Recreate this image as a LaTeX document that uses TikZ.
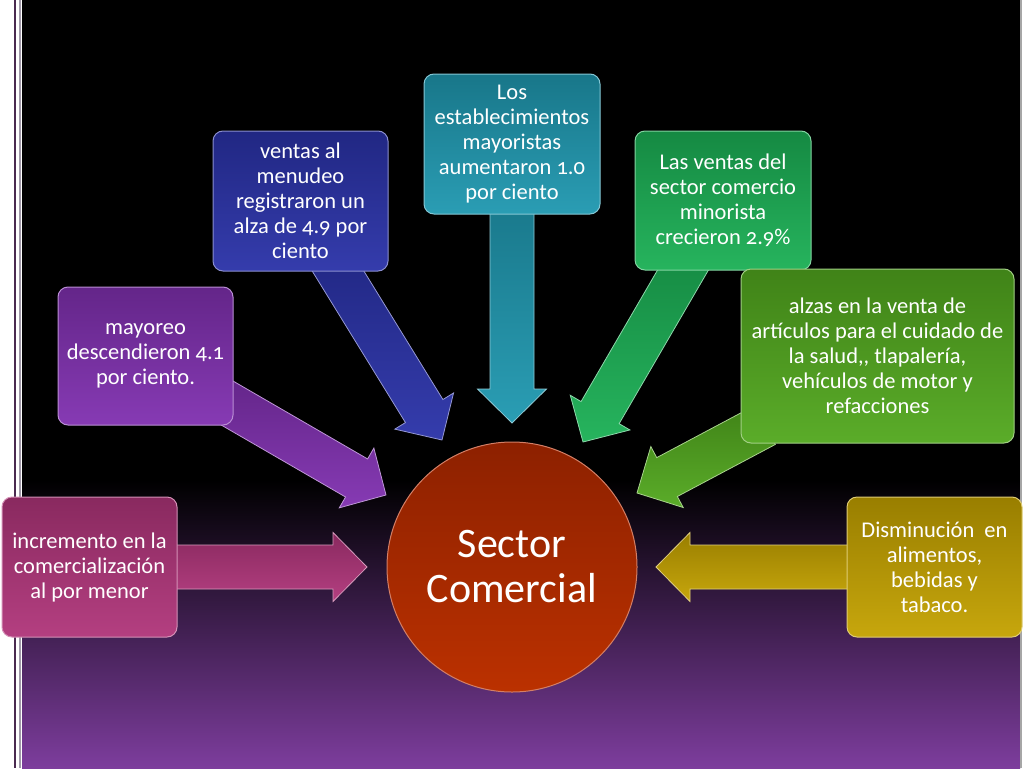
\documentclass[tikz,border=0pt]{standalone}
\usepackage{fontspec}
\setmainfont{Carlito}[Numbers=OldStyle]
\usetikzlibrary{calc}
\definecolor{bgpurple}{HTML}{7D3D9D}
\definecolor{stripdark}{HTML}{4A2A50}
\definecolor{stripgray}{HTML}{A098A8}
\definecolor{cMag}{HTML}{B0357A}
\definecolor{cPur}{HTML}{8030B0}
\definecolor{cBlu}{HTML}{2A32A8}
\definecolor{cTea}{HTML}{1F98B0}
\definecolor{cGrn}{HTML}{1BB055}
\definecolor{cLim}{HTML}{52A81E}
\definecolor{cGld}{HTML}{C4A200}
\definecolor{cRed}{HTML}{B52A00}
\tikzset{
  infobox/.style={rounded corners=10pt, draw=#1!55!white, line width=1pt,
    top color=#1!78!black, bottom color=#1!95!white,
    text=white, align=flush center, inner sep=2pt,
    font=\fontsize{22.5}{25}\selectfont},
  smallbox/.style={infobox=#1, minimum width=175pt, minimum height=140pt, text width=171pt},
  fatarrowsty/.style={top color=#1!78!black, bottom color=#1!95!white,
    draw=#1!50!white, line width=0.8pt, line join=miter},
  hub/.style={circle, minimum size=250pt, inner sep=0pt, draw=cRed!60!white, line width=1pt,
    top color=cRed!78!black, bottom color=cRed!92!orange, text=white, align=center,
    font=\fontsize{42}{45}\selectfont}
}
\newcommand\fatarrow[3]{%
  \coordinate (fab) at ($(#2)!34pt!(#1)$);
  \path[fatarrowsty=#3] ($(#1)!22pt!90:(#2)$) -- ($(fab)!22pt!-90:(#1)$)
    -- ($(fab)!34.5pt!-90:(#1)$) -- (#2) -- ($(fab)!34.5pt!90:(#1)$)
    -- ($(fab)!22pt!90:(#1)$) -- ($(#1)!22pt!-90:(#2)$) -- cycle;}
\begin{document}
\begin{tikzpicture}[x=1pt,y=-1pt]
\useasboundingbox (0,0) rectangle (1024,768);
% background
\fill[white] (0,0) rectangle (1024,768);
\fill[black] (22,0) rectangle (1020,768);
\shade[top color=black, bottom color=bgpurple] (22,480) rectangle (1020,768);
\fill[stripdark] (14,0) rectangle (16,768);
\fill[stripgray] (19,0) rectangle (21,768);
\fill[gray!70] (1020,0) rectangle (1021.5,768);
% arrow coordinates
\coordinate (s1) at (150,567);  \coordinate (t1) at (367,567);
\coordinate (s2) at (215,396);  \coordinate (t2) at (386,495);
\coordinate (s3) at (330,258);  \coordinate (t3) at (442,440);
\coordinate (s4) at (512,190);  \coordinate (t4) at (512,423);
\coordinate (s5) at (690,258);  \coordinate (t5) at (583,442);
\coordinate (s6) at (765,425);  \coordinate (t6) at (637,493);
\coordinate (s7) at (870,567);  \coordinate (t7) at (656,567);
\fatarrow{s1}{t1}{cMag}
\fatarrow{s2}{t2}{cPur}
\fatarrow{s3}{t3}{cBlu}
\fatarrow{s4}{t4}{cTea}
\fatarrow{s5}{t5}{cGrn}
\fatarrow{s6}{t6}{cLim}
\fatarrow{s7}{t7}{cGld}
% boxes
\node[smallbox=cMag] (b1) at (89.5,567) {incremento en la\\comercialización\\al por menor};
\node[smallbox=cPur, minimum height=138pt] (b2) at (145.5,356) {mayoreo\\descendieron 4.1\\por ciento.};
\node[smallbox=cBlu] (b3) at (300.5,201) {ventas al\\menudeo\\registraron un\\alza de 4.9 por\\ciento};
\node[smallbox=cTea, minimum width=176pt] (b4) at (512,144) {Los\\establecimientos\\mayoristas\\aumentaron 1.0\\por ciento};
\node[smallbox=cGrn, minimum width=176pt, minimum height=139pt] (b5) at (723,200.5) {Las ventas del\\sector comercio\\minorista\\crecieron 2.9\%};
\node[infobox=cLim, minimum width=273pt, minimum height=174pt, text width=269pt] (b6) at (877.5,356) {alzas en la venta de\\artículos para el cuidado de\\la salud,{}, tlapalería,\\vehículos de motor y\\refacciones};
\node[smallbox=cGld] (b7) at (934.5,567) {Disminución\ \ en\\alimentos,\\bebidas y\\tabaco.};
% hub
\node[hub] (c) at (512,567) {Sector\\Comercial};
\end{tikzpicture}
\end{document}
